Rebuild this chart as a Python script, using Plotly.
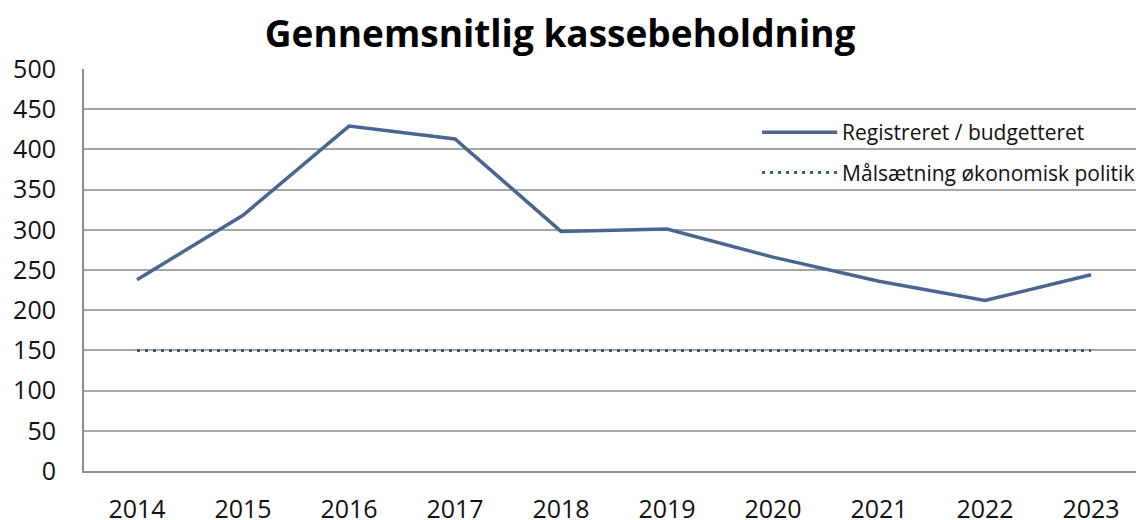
import plotly.graph_objects as go

years = [2014, 2015, 2016, 2017, 2018, 2019, 2020, 2021, 2022, 2023]
registreret = [238, 318, 429, 413, 298, 301, 266, 236, 212, 244]
maalsaetning = [150, 150, 150, 150, 150, 150, 150, 150, 150, 150]
y_ticks = [0, 50, 100, 150, 200, 250, 300, 350, 400, 450, 500]

line_color = "#4a6690"
dot_color = "#3f5a80"
font = "Open Sans"

fig = go.Figure()
fig.add_trace(go.Scatter(
    x=years, y=registreret, mode="lines", name="Registreret / budgetteret",
    legendgroup="a", line=dict(color=line_color, width=3.5)))
fig.add_trace(go.Scatter(
    x=years, y=maalsaetning, mode="lines", name="Målsætning økonomisk politik",
    legendgroup="b", line=dict(color=dot_color, width=3, dash="3px,5px")))

# page body has an 8px margin, so the figure is sized to fit the window from (8, 8)
fig.update_layout(
    width=1136, height=512,
    paper_bgcolor="white", plot_bgcolor="white",
    margin=dict(l=76, r=0, t=61, b=49, autoexpand=False),
    font=dict(family=font, size=25, color="#111111"),
    title=dict(text="<b>Gennemsnitlig kassebeholdning</b>", x=0.486, xanchor="center",
               y=0.949, yanchor="middle", font=dict(size=37, color="#000000", family=font)),
    legend=dict(x=0.635, y=0.893, xanchor="left", yanchor="top", bgcolor="rgba(0,0,0,0)",
                font=dict(size=21, color="#111111"), tracegroupgap=10, itemwidth=75),
    showlegend=True,
)
fig.update_xaxes(
    range=[2013.5, 2023.5], tickmode="array", tickvals=years, ticktext=[str(y) for y in years],
    showgrid=False, showline=True, linecolor="#8c8c8c", linewidth=2,
    ticks="", ticklabelstandoff=15, zeroline=False, automargin=False)
fig.update_yaxes(
    range=[0, 500], tickmode="array", tickvals=y_ticks, showgrid=True, gridcolor="#a6a6a6",
    gridwidth=1.5, showline=True, linecolor="#8c8c8c", linewidth=2, ticks="",
    ticklabelstandoff=21, zeroline=False, automargin=False)

fig.write_html("out.html")
